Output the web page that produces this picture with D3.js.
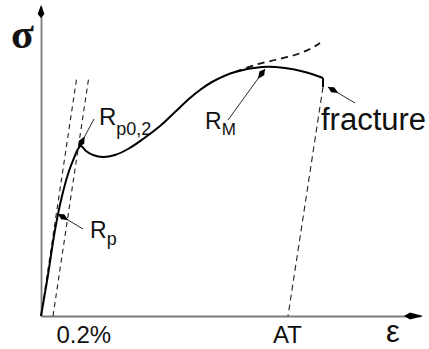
<!DOCTYPE html>
<html>
<head>
<meta charset="utf-8">
<script src="https://cdn.jsdelivr.net/npm/d3@7"></script>
<style>
  html, body { margin: 0; padding: 0; background: #fff; }
  svg { display: block; }
  text { font-family: "Liberation Sans", Arial, Helvetica, sans-serif; fill: #111; }
</style>
</head>
<body>
<svg id="chart" width="429" height="349"></svg>
<script>
// Engineering stress–strain curve, schematic units
const strain = [0, 3.5, 7, 10.5, 14, 16.5, 18.5, 20, 22.5, 26, 31, 37, 43.5, 51, 59.5, 67, 74.5, 79.5, 85.5, 97, 110.5, 122, 132, 141];
const stress = [0, 20.5, 43, 60, 72.5, 79, 83.5, 85, 82.5, 80.5, 79.5, 80.5, 83.5, 88.5, 95, 102, 109, 113, 117, 122, 124.5, 124, 122, 119];

// True-stress continuation beyond the tensile maximum
const trueStrain = [97, 107, 117, 127, 134.5, 139.5];
const trueStress = [122, 125.5, 128, 130.5, 133.5, 136.5];

// Elastic compliance (strain per unit stress), 0.2 % offset, fracture, elongation after fracture
const compliance = 0.15;
const offsetStrain = 6;
const elasticTopStress = 120;
const fractureStrain = 141;
const fractureStress = [119, 114.5];
const elongationAT = 123.5;

// Strain-axis labels
const xTickValues = [offsetStrain, elongationAT];
const xTickLabels = ["0.2%", "AT"];

// Annotated characteristic points
const markBase = ["R", "R", "R", "fracture"];
const markSub = ["p0,2", "p", "M", ""];
const markStrain = [19, 8.5, 112, 143.5];
const markStress = [84.5, 51, 123.5, 114.5];

const svg = d3.select("#chart");
const x = d3.scaleLinear().domain([0, 190]).range([41, 421]);
const y = d3.scaleLinear().domain([0, 155]).range([316, 6]);

// ---- axes ----
const xAxis = svg.append("g")
  .attr("transform", `translate(0,${y(0)})`)
  .call(d3.axisBottom(x).tickValues(xTickValues)
    .tickFormat((d, i) => xTickLabels[i]).tickSize(0).tickSizeOuter(0));
const yAxis = svg.append("g")
  .attr("transform", `translate(${x(0)},0)`)
  .call(d3.axisLeft(y).tickValues([]).tickSizeOuter(0));
[xAxis, yAxis].forEach(g => g.select(".domain").attr("stroke", "#7a7a7a").attr("stroke-width", 1.8));
xAxis.selectAll(".tick text")
  .attr("font-family", "Liberation Sans, Arial, sans-serif")
  .attr("font-size", 24).attr("fill", "#111")
  .attr("dy", null).attr("y", 27)
  .attr("text-anchor", (d, i) => i === 0 ? "start" : "middle")
  .attr("x", (d, i) => i === 0 ? 3 : -1);

// axis arrowheads
const xEnd = x.range()[1] + 2, yEnd = y.range()[1] - 1;
svg.append("path")
  .attr("d", `M${xEnd},${y(0)} L${xEnd - 13},${y(0) - 3.6} L${xEnd - 19},${y(0)} L${xEnd - 13},${y(0) + 3.6} Z`)
  .attr("fill", "#000");
svg.append("path")
  .attr("d", `M${x(0)},${yEnd} L${x(0) + 3.4},${yEnd + 9} L${x(0)},${yEnd + 13} L${x(0) - 3.4},${yEnd + 9} Z`)
  .attr("fill", "#000");

// axis symbols
svg.append("text").text("σ")
  .attr("x", 11).attr("y", 48)
  .style("font-family", "'Liberation Serif', 'Times New Roman', serif")
  .style("font-weight", "bold")
  .attr("font-size", 42);
svg.append("text").text("ε")
  .attr("x", 386).attr("y", 342)
  .attr("font-size", 31);

// ---- elastic lines and unloading line ----
const line = d3.line().x(d => x(d[0])).y(d => y(d[1]));
const dashed = svg.append("g").attr("fill", "none").attr("stroke", "#222");
dashed.append("path")
  .attr("d", line([[0, 0], [compliance * elasticTopStress, elasticTopStress]]))
  .attr("stroke-width", 1.1).attr("stroke-dasharray", "5,4");
dashed.append("path")
  .attr("d", line([[offsetStrain, 0], [offsetStrain + compliance * elasticTopStress, elasticTopStress]]))
  .attr("stroke-width", 1.1).attr("stroke-dasharray", "5,4");
dashed.append("path")
  .attr("d", line([[fractureStrain, fractureStress[1]], [elongationAT, 0]]))
  .attr("stroke-width", 1.1).attr("stroke-dasharray", "6,4");

// true-stress continuation
svg.append("path")
  .attr("d", d3.line().x(d => x(d[0])).y(d => y(d[1])).curve(d3.curveCatmullRom)(trueStrain.map((s, i) => [s, trueStress[i]])))
  .attr("fill", "none").attr("stroke", "#111").attr("stroke-width", 1.8)
  .attr("stroke-dasharray", "7,5");

// ---- main curve ----
svg.append("path")
  .attr("d", d3.line().x(d => x(d[0])).y(d => y(d[1])).curve(d3.curveCatmullRom.alpha(0.5))(strain.map((s, i) => [s, stress[i]])))
  .attr("fill", "none").attr("stroke", "#000").attr("stroke-width", 2).attr("stroke-linejoin", "round");
svg.append("path")
  .attr("d", line([[fractureStrain, fractureStress[0]], [fractureStrain, fractureStress[1]]]))
  .attr("stroke", "#000").attr("stroke-width", 2);

// ---- annotations: leader offset (px) and label position relative to the marked point ----
const leaderOffset = [[15, -28], [25, 15], [-37, 51], [27, 16]];
const labelOffset = [[20, -22], [32, 24], [-60, 60], [-7, 43]];
const labelSize = [24, 23, 23, 31];
const subSize = [18, 18, 17, 0];
const subShift = [10, 7, 6, 0];

function kite(tx, ty, fx, fy, len, half) {
  const a = Math.atan2(ty - fy, tx - fx), ux = Math.cos(a), uy = Math.sin(a);
  const nx = -uy, ny = ux;
  const mx = tx - ux * len * 0.45, my = ty - uy * len * 0.45;
  return `M${tx},${ty} L${mx + nx * half},${my + ny * half} L${tx - ux * len},${ty - uy * len} L${mx - nx * half},${my - ny * half} Z`;
}

markBase.forEach((base, i) => {
  const px = x(markStrain[i]), py = y(markStress[i]);
  const ex = px + leaderOffset[i][0], ey = py + leaderOffset[i][1];
  svg.append("line")
    .attr("x1", px).attr("y1", py).attr("x2", ex).attr("y2", ey)
    .attr("stroke", "#111").attr("stroke-width", 0.9);
  svg.append("path").attr("d", kite(px, py, ex, ey, 12, 3)).attr("fill", "#000");
  const t = svg.append("text")
    .attr("x", px + labelOffset[i][0]).attr("y", py + labelOffset[i][1])
    .attr("font-size", labelSize[i]);
  t.append("tspan").text(base);
  if (markSub[i]) {
    t.append("tspan").text(markSub[i])
      .attr("font-size", subSize[i]).attr("dy", subShift[i]);
  }
});
</script>
</body>
</html>
